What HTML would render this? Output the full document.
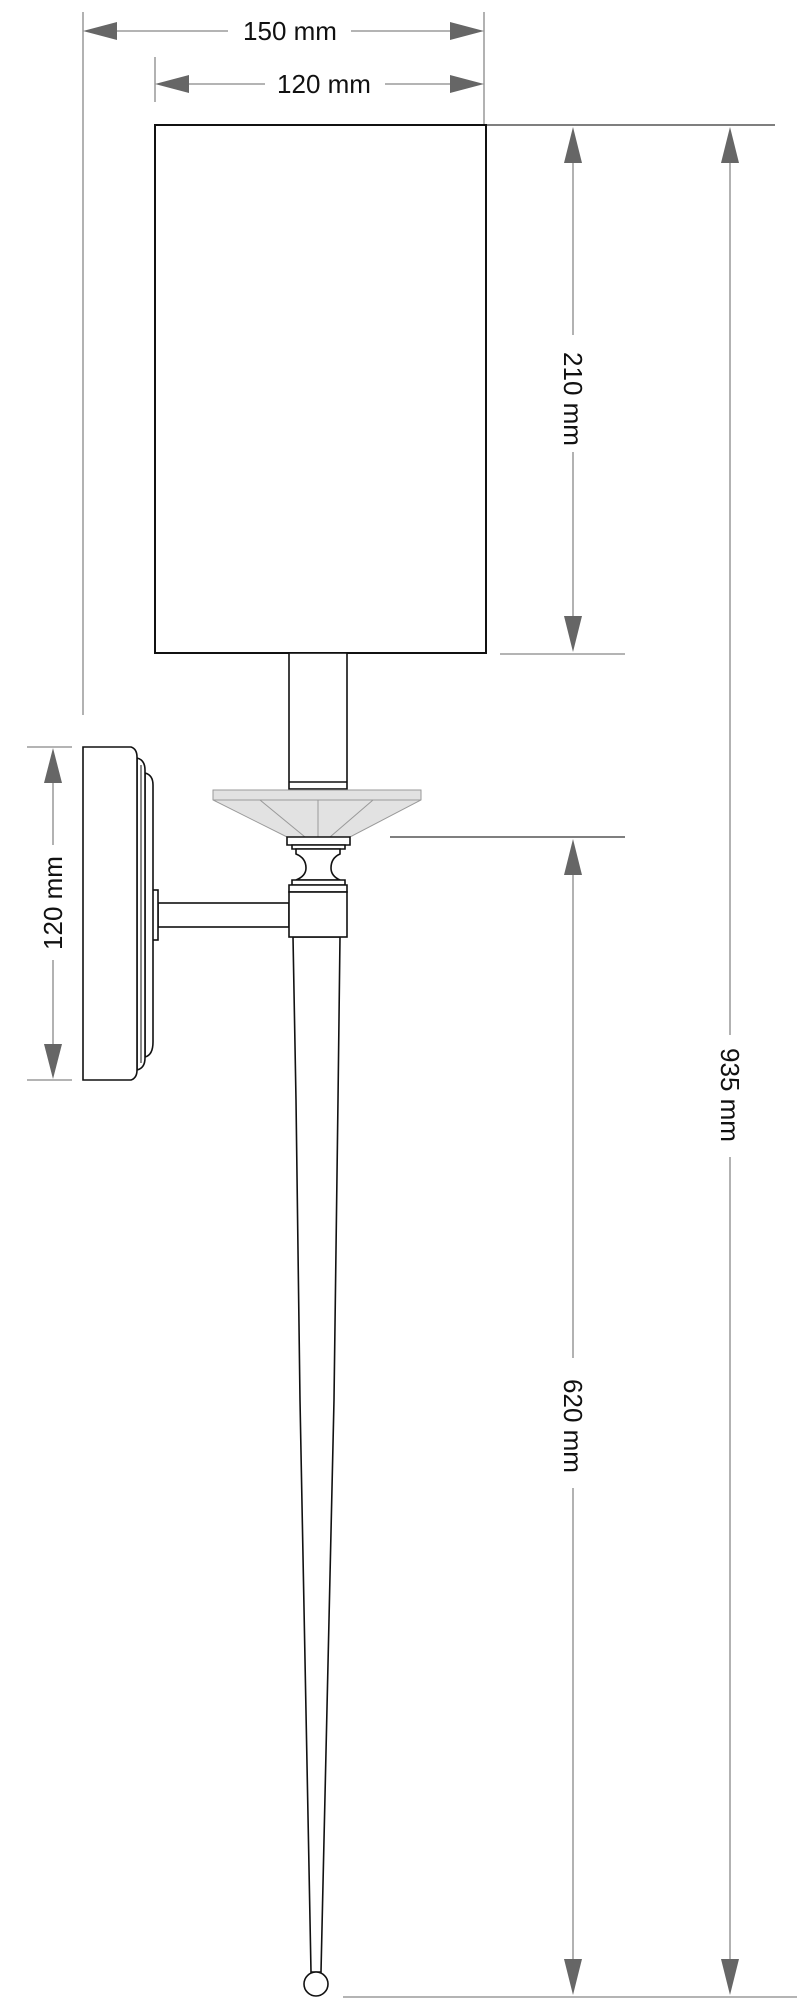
<!DOCTYPE html>
<html><head><meta charset="utf-8"><style>
html,body{margin:0;padding:0;background:#fff;}
svg{display:block;}
text{font-family:"Liberation Sans",Arial,sans-serif;font-size:26px;fill:#111;}
</style></head><body>
<svg width="797" height="2000" viewBox="0 0 797 2000" xmlns="http://www.w3.org/2000/svg">
<g stroke="#888" stroke-width="1.3" fill="none">
  <!-- top dims ext lines -->
  <line x1="83" y1="12" x2="83" y2="715"/>
  <line x1="484" y1="12" x2="484" y2="124"/>
  <line x1="155" y1="57" x2="155" y2="102"/>
  <!-- 150 line -->
  <line x1="100" y1="31" x2="228" y2="31"/>
  <line x1="351" y1="31" x2="470" y2="31"/>
  <!-- 120 line -->
  <line x1="170" y1="84" x2="265" y2="84"/>
  <line x1="385" y1="84" x2="470" y2="84"/>
  <!-- right ext -->
  <line x1="486" y1="125" x2="775" y2="125" stroke="#333"/>
  <line x1="500" y1="654" x2="625" y2="654"/>
  <line x1="390" y1="837" x2="625" y2="837" stroke="#333"/>
  <line x1="343" y1="1997" x2="797" y2="1997"/>
  <!-- 210 -->
  <line x1="573" y1="140" x2="573" y2="335"/>
  <line x1="573" y1="452" x2="573" y2="640"/>
  <!-- 935 -->
  <line x1="730" y1="140" x2="730" y2="1035"/>
  <line x1="730" y1="1157" x2="730" y2="1985"/>
  <!-- 620 -->
  <line x1="573" y1="850" x2="573" y2="1358"/>
  <line x1="573" y1="1488" x2="573" y2="1985"/>
  <!-- left 120 -->
  <line x1="27" y1="747" x2="72" y2="747"/>
  <line x1="27" y1="1080" x2="72" y2="1080"/>
  <line x1="53" y1="760" x2="53" y2="845"/>
  <line x1="53" y1="960" x2="53" y2="1068"/>
</g>
<g fill="#666">
  <polygon points="83,31 117,22 117,40"/>
  <polygon points="484,31 450,22 450,40"/>
  <polygon points="155,84 189,75 189,93"/>
  <polygon points="484,84 450,75 450,93"/>
  <polygon points="573,127 564,163 582,163"/>
  <polygon points="573,652 564,616 582,616"/>
  <polygon points="730,127 721,163 739,163"/>
  <polygon points="730,1995 721,1959 739,1959"/>
  <polygon points="573,839 564,875 582,875"/>
  <polygon points="573,1995 564,1959 582,1959"/>
  <polygon points="53,748 44,783 62,783"/>
  <polygon points="53,1079 44,1044 62,1044"/>
</g>
<text x="290" y="40" text-anchor="middle">150 mm</text>
<text x="324" y="93" text-anchor="middle">120 mm</text>
<text transform="translate(564,399) rotate(90)" text-anchor="middle">210 mm</text>
<text transform="translate(721,1095) rotate(90)" text-anchor="middle">935 mm</text>
<text transform="translate(564,1426) rotate(90)" text-anchor="middle">620 mm</text>
<text transform="translate(62,903) rotate(-90)" text-anchor="middle">120 mm</text>

<g stroke="#111" stroke-width="1.6" fill="#fff">
  <rect x="155" y="125" width="331" height="528" stroke-width="2"/>
  <rect x="289" y="653" width="58" height="136"/>
  <line x1="289" y1="782" x2="347" y2="782"/>
  <!-- glass -->
  <polygon points="213,790 421,790 421,800 350,837 287,837 213,800" fill="#e2e2e2" stroke="#999" stroke-width="1"/>
  <g stroke="#999" stroke-width="1">
    <line x1="213" y1="800" x2="421" y2="800"/>
    <line x1="260" y1="800" x2="305" y2="837"/>
    <line x1="318" y1="800" x2="318" y2="837"/>
    <line x1="373" y1="800" x2="330" y2="837"/>
  </g>
  <!-- baluster -->
  <path d="M287,837 H350 V845 H287 Z"/>
  <path d="M292,845 H345 V849 H292 Z"/>
  <path d="M296,849 H340 V854 Q331,858 331,868 Q331,876 340,880 H296 Q306,876 306,868 Q306,858 296,854 Z"/>
  <path d="M292,880 H345 V885 H292 Z"/>
  <path d="M289,885 H347 V892 H289 Z"/>
  <!-- stem -->
  <path d="M293,937 L296,1100 L300,1400 L311,1972 L321,1972 L334,1400 L338,1100 L340,937 Z"/>
  <circle cx="316" cy="1984" r="12"/>
  <!-- arm -->
  <rect x="158" y="903" width="131" height="24"/>
  <rect x="152" y="890" width="6" height="50"/>
  <rect x="289" y="892" width="58" height="45"/>
  <!-- wall plate -->
  <path d="M145,773 Q153,775 153,785 V1042 Q153,1055 145,1057 Z"/>
  <path d="M137,758 Q145,760 145,770 V1058 Q145,1068 137,1070 Z"/>
  <path d="M83,747 H131 Q137,749 137,757 V1070 Q137,1078 131,1080 H83 Z"/>
  <line x1="141" y1="765" x2="141" y2="1063" stroke-width="1"/>
</g>
</svg>
</body></html>
